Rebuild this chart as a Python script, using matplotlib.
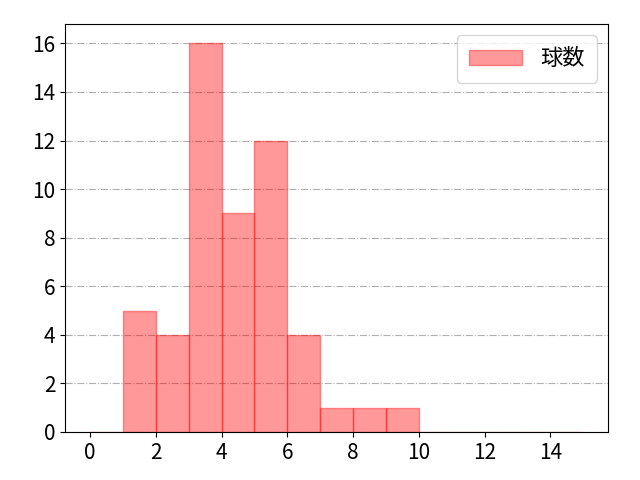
import matplotlib
matplotlib.use("Agg")
import matplotlib.pyplot as plt
import numpy as np

plt.rcParams['font.family'] = ['Noto Sans CJK JP', 'DejaVu Sans']

# bin centers and pitch counts
pitch_values = [0.5, 1.5, 2.5, 3.5, 4.5, 5.5, 6.5, 7.5, 8.5, 9.5, 10.5, 11.5, 12.5, 13.5, 14.5]
counts = [0, 5, 4, 16, 9, 12, 4, 1, 1, 1, 0, 0, 0, 0, 0]
bin_edges = list(range(0, 16))

fig, ax = plt.subplots(figsize=(6.4, 4.8), dpi=100)
ax.hist(pitch_values, bins=bin_edges, weights=counts, color='red', alpha=0.4,
        edgecolor='red', linewidth=1, label='球数')
ax.set_xticks(range(0, 16, 2))
ax.set_yticks(range(0, 17, 2))
ax.tick_params(labelsize=15)
ax.grid(axis='y', linestyle='-.', color='#b0b0b0', linewidth=0.8)
ax.set_axisbelow(True)
ax.legend(fontsize=16, handlelength=2.4, loc='upper right', borderpad=0.55)
fig.subplots_adjust(left=0.102, right=0.95, top=0.95, bottom=0.1)
fig.savefig('out.png', dpi=100)
